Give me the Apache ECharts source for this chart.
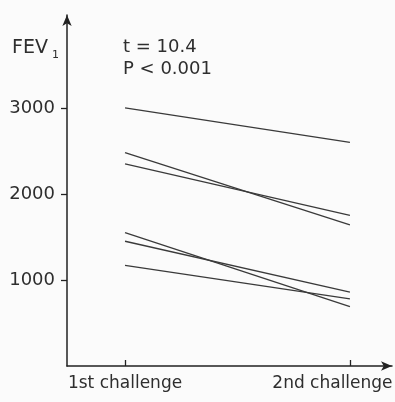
<!DOCTYPE html>
<html>
<head>
<meta charset="utf-8">
<script src="https://cdn.jsdelivr.net/npm/echarts@6/dist/echarts.min.js"></script>
<style>
html,body{margin:0;padding:0;background:#fbfbfb;}
#c{width:395px;height:402px;}
</style>
</head>
<body>
<div id="c"></div>
<script>
const categories = ['1st challenge', '2nd challenge'];
const firstChallenge = [3000, 2480, 2350, 1550, 1450, 1170];
const secondChallenge = [2600, 1640, 1750, 690, 860, 780];
const yTicks = [1000, 2000, 3000];
const xTicks = [0, 1];

const FONT = 'DejaVu Sans';
const INK = '#2e2e2e';

const chart = echarts.init(document.getElementById('c'), null, {renderer: 'canvas'});

const series = firstChallenge.map((v, i) => ({
  type: 'line',
  data: [[0, v], [1, secondChallenge[i]]],
  symbol: 'none',
  silent: true,
  lineStyle: {color: '#3a3a3a', width: 1.3}
}));

chart.setOption({
  backgroundColor: '#fbfbfb',
  animation: false,
  grid: {left: 67, right: 3, top: 15, bottom: 36, containLabel: false, outerBoundsMode: 'none'},
  xAxis: {
    type: 'value',
    min: -0.258,
    max: 1.187,
    splitLine: {show: false},
    axisLine: {show: true, onZero: false, lineStyle: {color: '#222', width: 1.5}, symbol: ['none', 'arrow'], symbolSize: [7, 11]},
    axisTick: {show: true, inside: true, length: 6, customValues: xTicks, lineStyle: {color: '#222', width: 1.3}},
    axisLabel: {
      show: true,
      customValues: xTicks,
      margin: 9,
      color: INK,
      fontFamily: FONT,
      fontSize: 17,
      formatter: function (v) {
        const idx = Math.round(v);
        return idx === 1 ? '{r|' + categories[idx] + '}' : categories[idx];
      },
      rich: {r: {fontFamily: FONT, fontSize: 17, color: INK, padding: [0, 35, 0, 0]}}
    }
  },
  yAxis: {
    type: 'value',
    min: 0,
    max: 4080,
    splitLine: {show: false},
    axisLine: {show: true, onZero: false, lineStyle: {color: '#222', width: 1.5}, symbol: ['none', 'arrow'], symbolSize: [7, 11]},
    axisTick: {show: true, inside: false, length: 6, customValues: yTicks, lineStyle: {color: '#222', width: 1.3}},
    axisLabel: {
      show: true,
      customValues: yTicks,
      margin: 12,
      color: INK,
      fontFamily: FONT,
      fontSize: 18,
      formatter: function (v) { return String(v); }
    }
  },
  graphic: [
    {type: 'text', left: 12, top: 39, style: {text: 'FEV', fontFamily: FONT, fontSize: 19, fill: INK}},
    {type: 'text', left: 52, top: 50, style: {text: '1', fontFamily: FONT, fontSize: 11, fill: INK}},
    {type: 'text', left: 123, top: 38, style: {text: 't = 10.4', fontFamily: FONT, fontSize: 18, fill: INK}},
    {type: 'text', left: 123, top: 60, style: {text: 'P < 0.001', fontFamily: FONT, fontSize: 18, fill: INK}}
  ],
  series: series
});
</script>
</body>
</html>
